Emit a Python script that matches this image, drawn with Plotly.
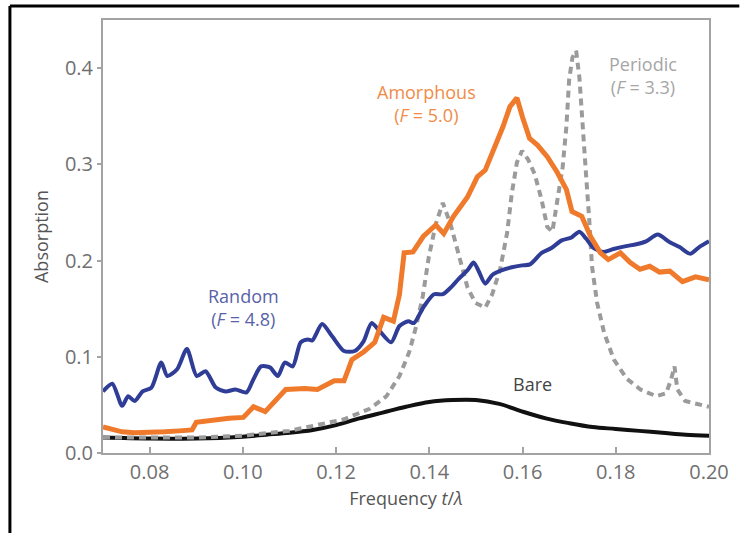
import plotly.graph_objects as go

# Absorption spectra of a thin slab: bare, periodic, amorphous and random patterning
bare_f = [0.070, 0.080, 0.090, 0.100, 0.105, 0.110, 0.115, 0.120, 0.125, 0.130,
          0.135, 0.140, 0.145, 0.150, 0.155, 0.160, 0.165, 0.170, 0.175, 0.180,
          0.185, 0.190, 0.195, 0.200]
bare_a = [0.016, 0.015, 0.015, 0.017, 0.019, 0.021, 0.024, 0.029, 0.036, 0.042,
          0.048, 0.053, 0.055, 0.055, 0.051, 0.043, 0.036, 0.031, 0.027, 0.025,
          0.023, 0.021, 0.019, 0.018]

periodic_f = [0.070, 0.080, 0.090, 0.100, 0.110, 0.1217, 0.1272, 0.1308, 0.1336, 0.1357,
              0.1372, 0.1386, 0.1399, 0.1414, 0.1429, 0.1446, 0.1463, 0.1482, 0.1499, 0.1520,
              0.1535, 0.1552, 0.1567, 0.1577, 0.1588, 0.1599, 0.1612, 0.1626, 0.1641, 0.1653,
              0.1664, 0.1675, 0.1686, 0.1694, 0.1700, 0.1707, 0.1715, 0.1722, 0.1728, 0.1736,
              0.1743, 0.1749, 0.1760, 0.1775, 0.1796, 0.1824, 0.1853, 0.1887, 0.1908, 0.1919,
              0.1926, 0.1932, 0.1949, 0.1971, 0.2000]
periodic_a = [0.016, 0.016, 0.016, 0.018, 0.023, 0.035, 0.046, 0.059, 0.080, 0.105,
              0.132, 0.163, 0.204, 0.238, 0.260, 0.237, 0.205, 0.172, 0.156, 0.151,
              0.165, 0.191, 0.229, 0.270, 0.302, 0.314, 0.305, 0.290, 0.263, 0.235,
              0.230, 0.262, 0.297, 0.339, 0.388, 0.411, 0.418, 0.390, 0.343, 0.291,
              0.243, 0.194, 0.156, 0.125, 0.097, 0.077, 0.066, 0.059, 0.062, 0.077,
              0.090, 0.066, 0.054, 0.051, 0.048]

random_f = [0.0700, 0.0720, 0.0741, 0.0754, 0.0768, 0.0785, 0.0804, 0.0825, 0.0838, 0.0859,
            0.0880, 0.0901, 0.0920, 0.0942, 0.0963, 0.0984, 0.1008, 0.1023, 0.1039, 0.1058,
            0.1075, 0.1090, 0.1107, 0.1124, 0.1139, 0.1149, 0.1170, 0.1192, 0.1217, 0.1240,
            0.1259, 0.1276, 0.1293, 0.1318, 0.1336, 0.1355, 0.1367, 0.1388, 0.1410, 0.1429,
            0.1446, 0.1463, 0.1482, 0.1495, 0.1505, 0.1520, 0.1535, 0.1556, 0.1577, 0.1599,
            0.1616, 0.1641, 0.1662, 0.1684, 0.1705, 0.1722, 0.1736, 0.1753, 0.1774, 0.1795,
            0.1822, 0.1844, 0.1865, 0.1890, 0.1916, 0.1937, 0.1960, 0.1979, 0.2000]
random_a = [0.064, 0.072, 0.049, 0.059, 0.054, 0.064, 0.068, 0.094, 0.080, 0.087,
            0.108, 0.080, 0.085, 0.068, 0.064, 0.066, 0.063, 0.077, 0.090, 0.089,
            0.080, 0.094, 0.090, 0.115, 0.118, 0.117, 0.134, 0.121, 0.106, 0.106,
            0.116, 0.135, 0.127, 0.115, 0.132, 0.137, 0.135, 0.152, 0.165, 0.165,
            0.172, 0.181, 0.190, 0.198, 0.190, 0.176, 0.185, 0.190, 0.193, 0.195,
            0.196, 0.208, 0.213, 0.221, 0.224, 0.230, 0.223, 0.213, 0.209, 0.212,
            0.215, 0.217, 0.220, 0.227, 0.219, 0.214, 0.207, 0.214, 0.220]

amorphous_f = [0.0700, 0.0720, 0.0741, 0.0768, 0.0800, 0.0832, 0.0864, 0.0891, 0.0900, 0.0927,
               0.0970, 0.1001, 0.1023, 0.1048, 0.1069, 0.1092, 0.1133, 0.1160, 0.1196, 0.1217,
               0.1234, 0.1259, 0.1283, 0.1302, 0.1323, 0.1336, 0.1346, 0.1365, 0.1387, 0.1414,
               0.1431, 0.1452, 0.1482, 0.1503, 0.1520, 0.1541, 0.1558, 0.1573, 0.1588, 0.1600,
               0.1615, 0.1632, 0.1653, 0.1674, 0.1694, 0.1706, 0.1727, 0.1746, 0.1767, 0.1784,
               0.1810, 0.1831, 0.1852, 0.1873, 0.1894, 0.1916, 0.1943, 0.1971, 0.2000]
amorphous_a = [0.027, 0.025, 0.022, 0.021, 0.021, 0.022, 0.023, 0.024, 0.032, 0.034,
               0.036, 0.037, 0.048, 0.043, 0.054, 0.066, 0.067, 0.066, 0.075, 0.075,
               0.097, 0.105, 0.115, 0.141, 0.137, 0.165, 0.208, 0.209, 0.225, 0.237,
               0.228, 0.246, 0.266, 0.287, 0.294, 0.318, 0.339, 0.360, 0.369, 0.349,
               0.327, 0.320, 0.308, 0.292, 0.274, 0.251, 0.246, 0.225, 0.208, 0.201,
               0.208, 0.198, 0.191, 0.194, 0.188, 0.189, 0.178, 0.183, 0.180]

x_ticks = [0.08, 0.10, 0.12, 0.14, 0.16, 0.18, 0.20]
y_ticks = [0.0, 0.1, 0.2, 0.3, 0.4]

FONT = "Open Sans"
AXIS_GREY = "#a3a3a3"

fig = go.Figure()
fig.add_trace(go.Scatter(x=bare_f, y=bare_a, mode="lines", line=dict(color="#111111", width=4, shape="spline")))
fig.add_trace(go.Scatter(x=periodic_f, y=periodic_a, mode="lines",
                         line=dict(color="#9b9b9b", width=4, dash="7px,5px")))
fig.add_trace(go.Scatter(x=random_f, y=random_a, mode="lines",
                         line=dict(color="#2f3d97", width=4, shape="spline", smoothing=0.7)))
fig.add_trace(go.Scatter(x=amorphous_f, y=amorphous_a, mode="lines",
                         line=dict(color="#f07a2c", width=5)))

labels = [
    (0.1001, 0.151, "Random<br>(<i>F</i> = 4.8)", "#5862a8"),
    (0.1393, 0.363, "Amorphous<br>(<i>F</i> = 5.0)", "#f08c48"),
    (0.1858, 0.392, "Periodic<br>(<i>F</i> = 3.3)", "#a6a6a6"),
    (0.1622, 0.0715, "Bare", "#444444"),
]
for x, y, text, color in labels:
    fig.add_annotation(x=x, y=y, text=text, showarrow=False, xanchor="center", yanchor="middle",
                       font=dict(family=FONT, size=18, color=color))

# outer black frame lines (top and left)
fig.add_shape(type="line", xref="paper", yref="paper", x0=-0.1536, x1=1.05, y0=1.0323, y1=1.0323,
              line=dict(color="black", width=3))
fig.add_shape(type="line", xref="paper", yref="paper", x0=-0.1536, x1=-0.1536, y0=1.0323, y1=-0.2,
              line=dict(color="black", width=3))

fig.update_layout(
    width=741, height=533, autosize=False,
    margin=dict(l=103, r=25, t=20, b=80),
    paper_bgcolor="white", plot_bgcolor="white",
    showlegend=False,
    font=dict(family=FONT, color="#666666"),
    xaxis=dict(range=[0.07, 0.20], tickvals=x_ticks, tickformat=".2f",
               ticks="inside", ticklen=6, tickwidth=1.5, tickcolor=AXIS_GREY,
               showline=True, linecolor=AXIS_GREY, linewidth=2, mirror=True,
               showgrid=False, zeroline=False,
               tickfont=dict(family=FONT, size=20, color="#707070"),
               title=dict(text="Frequency <i>t</i>/<i>λ</i>", standoff=8,
                          font=dict(family=FONT, size=18, color="#555555"))),
    yaxis=dict(range=[0, 0.45], tickvals=y_ticks, tickformat=".1f",
               ticks="outside", ticklen=4, tickwidth=1.5, tickcolor=AXIS_GREY,
               showline=True, linecolor=AXIS_GREY, linewidth=2, mirror=True,
               showgrid=False, zeroline=False,
               tickfont=dict(family=FONT, size=20, color="#707070"),
               title=dict(text="Absorption", standoff=12,
                          font=dict(family=FONT, size=18, color="#555555"))),
)

fig.write_html("out.html")
